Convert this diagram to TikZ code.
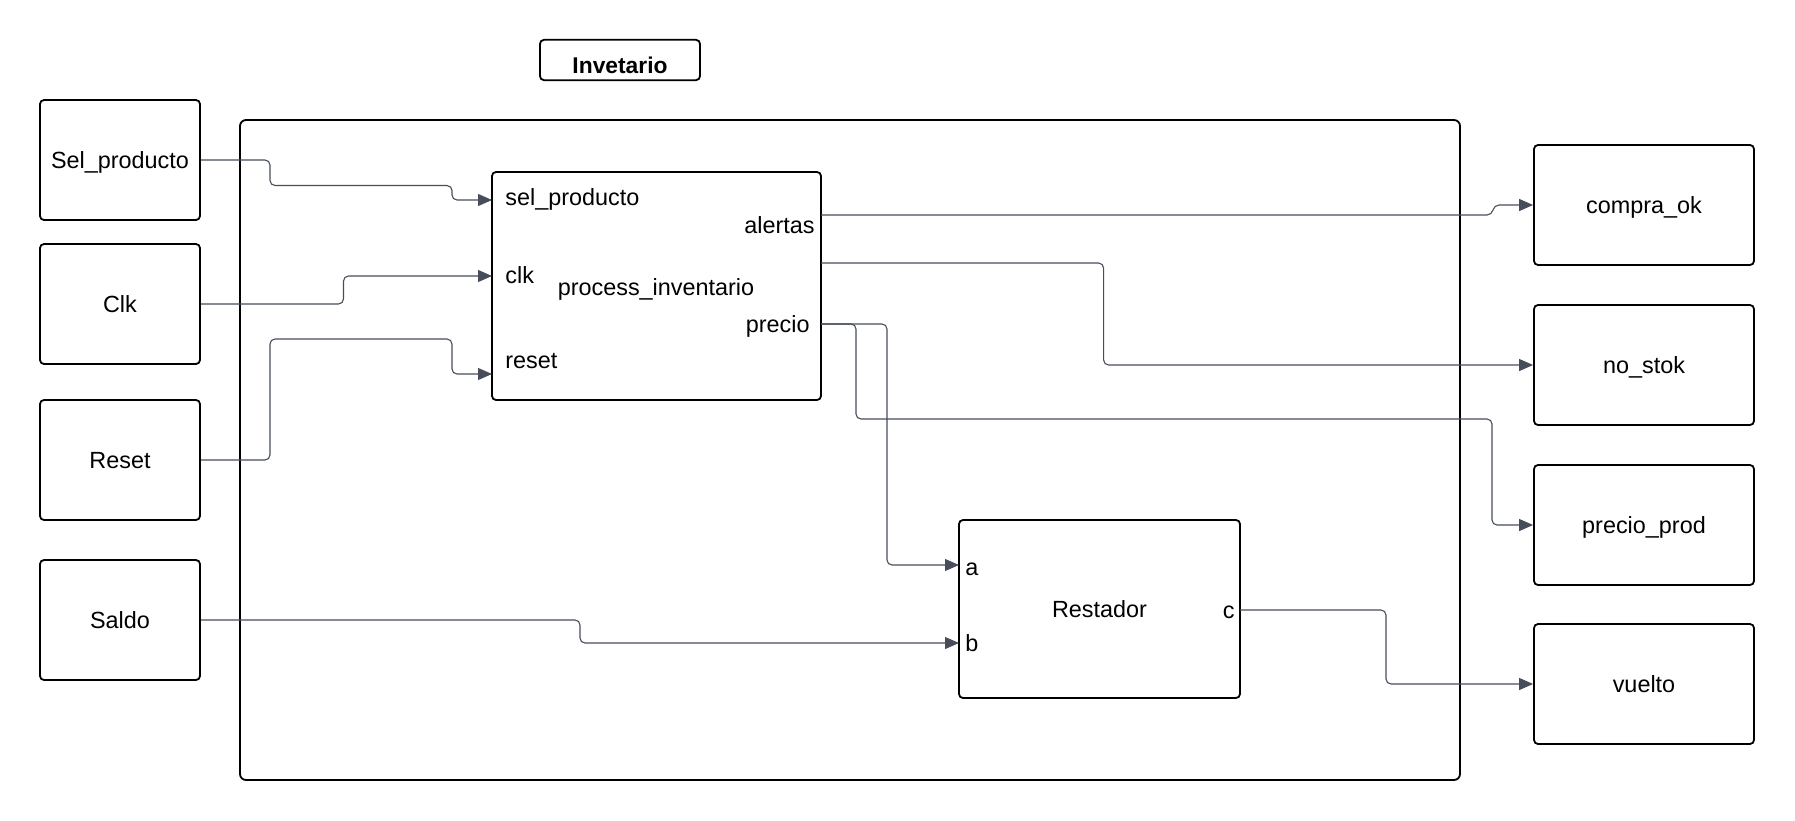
\documentclass[tikz,border=0pt]{standalone}
\usepackage{fontspec}
\setmainfont{Liberation Sans}
\usepackage{tikz}
\usetikzlibrary{arrows.meta}
\usepackage{xcolor}

\definecolor{wirecol}{HTML}{474D5A}
\tikzset{
  blk/.style={draw, line width=0.9pt, rounded corners=2pt, minimum width=80pt, minimum height=60pt, text height=8.6pt, text depth=0pt, font=\fontsize{11.7}{14}\selectfont},
  outblk/.style={blk, minimum width=110pt},
  port/.style={inner sep=0pt, text height=8.6pt, text depth=0pt, font=\fontsize{11.7}{14}\selectfont},
  wire/.style={draw=wirecol, line width=0.55pt, rounded corners=2.5pt},
}

\begin{document}
\begin{tikzpicture}[x=0.5pt,y=-0.5pt,>={Triangle[length=7pt,width=6pt]}]
\useasboundingbox (0,0) rectangle (1795,820);
% title and outer block
\node[blk, minimum height=20pt, text height=13.5pt, font=\bfseries\fontsize{11.4}{14}\selectfont] (title) at (620,60) {Invetario};
\node[blk, rounded corners=3pt, minimum width=610pt, minimum height=330pt] (top) at (850,450) {};
% inputs
\node[blk] (selp) at (120,160) {Sel\_producto};
\node[blk] (clk) at (120,304) {Clk};
\node[blk] (rst) at (120,460) {Reset};
\node[blk] (saldo) at (120,620) {Saldo};
% process_inventario
\node[blk, minimum width=164.5pt, minimum height=114pt] (proc) at (656.5,286) {};
\node[port] (lproc) at (656,287) {process\_inventario};
\node[port, anchor=west] (lsel) at (505,197) {sel\_producto};
\node[port, anchor=west] (lclk) at (505,275) {clk};
\node[port, anchor=west] (lrst) at (505,360) {reset};
\node[port, anchor=east] (lale) at (815,225) {alertas};
\node[port, anchor=east] (lpre) at (810,324) {precio};
% restador
\node[blk, minimum width=140.5pt, minimum height=89pt] (rest) at (1099.5,609) {Restador};
\node[port, anchor=west] (la) at (965,567) {a};
\node[port, anchor=west] (lb) at (965,643) {b};
\node[port, anchor=east] (lc) at (1235,610) {c};
% outputs
\node[outblk] (cok) at (1644,205) {compra\_ok};
\node[outblk] (nstk) at (1644,365) {no\_stok};
\node[outblk] (pprod) at (1644,525) {precio\_prod};
\node[outblk] (vuel) at (1644,684) {vuelto};
% ports
\coordinate (i-sel) at (492,200);
\coordinate (i-clk) at (492,276);
\coordinate (i-rst) at (492,374);
\coordinate (o-ale) at (821,215);
\coordinate (o-stk) at (821,263);
\coordinate (o-pre) at (821,324);
\coordinate (i-a) at (959,565);
\coordinate (i-b) at (959,643);
\coordinate (o-c) at (1240,610);
% wires
\draw[wire,->] (selp.east) -- (270,160) -- (270,185.5) -- (452,185.5) -- (452,200) -- (i-sel);
\draw[wire,->] (clk.east) -- (343.5,304) -- (343.5,276) -- (i-clk);
\draw[wire,->] (rst.east) -- (270,460) -- (270,339) -- (452,339) -- (452,374) -- (i-rst);
\draw[wire,->] (o-ale) -- (1492,215) -- (1494,205) -- (cok.west);
\draw[wire,->] (o-stk) -- (1103.6,263) -- (1103.6,365) -- (nstk.west);
\draw[wire,->] (o-pre) -- (887,324) -- (887,565) -- (i-a);
\draw[wire,->] (o-pre) -- (856,324) -- (856,419) -- (1492,419) -- (1492,525) -- (pprod.west);
\draw[wire,->] (saldo.east) -- (580,620) -- (580,643) -- (i-b);
\draw[wire,->] (o-c) -- (1386,610) -- (1386,684) -- (vuel.west);
\end{tikzpicture}
\end{document}
